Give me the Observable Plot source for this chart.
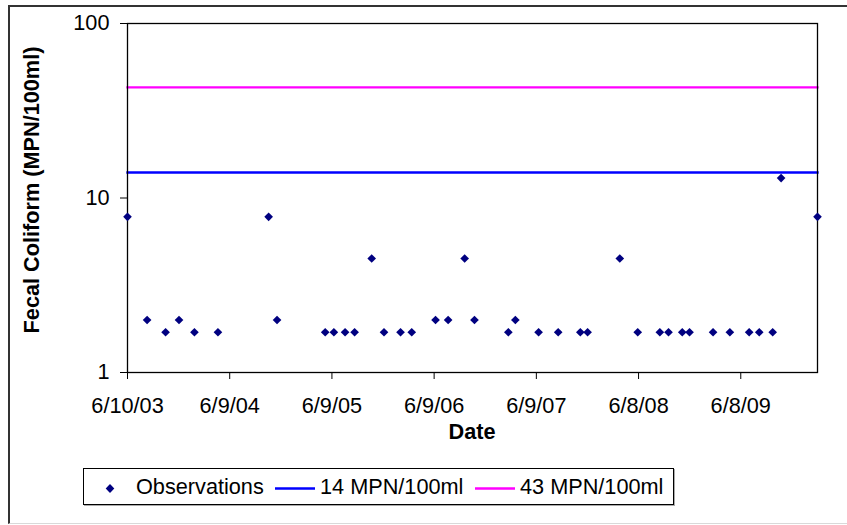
<!DOCTYPE html>
<html>
<head>
<meta charset="utf-8">
<script src="https://cdn.jsdelivr.net/npm/d3@7"></script>
<script src="https://cdn.jsdelivr.net/npm/@observablehq/plot@0.6"></script>
<style>
  body { margin: 0; background: #fff; }
  #wrap { position: relative; width: 847px; height: 525px; overflow: hidden; font-family: "Liberation Sans", Arial, sans-serif; }
  #wrap svg { position: absolute; left: 0; top: 0; }
  .frame { position: absolute; left: 8px; top: 5px; width: 900px; height: 516px; border-left: 2px solid #333; border-top: 2px solid #333; border-bottom: 1px solid #d9d9d9; }
  .title { position: absolute; font-weight: bold; font-size: 21.7px; color: #000; white-space: nowrap; }
  .legend { position: absolute; left: 83px; top: 468px; width: 589px; height: 35px; border: 1px solid #000; background: #fff; box-shadow: 1px 1px 0 #aaa; }
  .li { position: absolute; top: 0; height: 35px; line-height: 35px; font-size: 21.7px; color: #000; white-space: nowrap; }
</style>
</head>
<body>
<div id="wrap">
  <div class="frame"></div>
</div>
<script>
// ---- data ----
const obsDates = ["2003-06-10","2003-08-19","2003-10-24","2003-12-11","2004-02-04","2004-04-28","2004-10-26","2004-11-25","2005-05-16","2005-06-16","2005-07-26","2005-08-29","2005-10-29","2005-12-12","2006-02-09","2006-03-21","2006-06-14","2006-07-29","2006-09-26","2006-10-31","2007-03-01","2007-03-26","2007-06-17","2007-08-26","2007-11-13","2007-12-09","2008-04-02","2008-06-05","2008-08-23","2008-09-23","2008-11-11","2008-12-07","2009-03-01","2009-04-30","2009-07-08","2009-08-13","2009-09-30","2009-10-30","2010-03-09"];
const obsValues = [7.8,2,1.7,2,1.7,1.7,7.8,2,1.7,1.7,1.7,1.7,4.5,1.7,1.7,1.7,2,2,4.5,2,1.7,2,1.7,1.7,1.7,1.7,4.5,1.7,1.7,1.7,1.7,1.7,1.7,1.7,1.7,1.7,1.7,13,7.8];
const standardValues = [14, 43];
const seriesNames = ["Observations", "14 MPN/100ml", "43 MPN/100ml"];
const tickDateStrings = ["2003-06-10","2004-06-09","2005-06-09","2006-06-09","2007-06-09","2008-06-08","2009-06-08"];
const tickLabels = ["6/10/03","6/9/04","6/9/05","6/9/06","6/9/07","6/8/08","6/8/09"];
const yTicks = [1, 10, 100];
const xTitle = "Date";
const yTitle = "Fecal Coliform (MPN/100ml)";

// ---- build ----
const parse = s => new Date(s + "T00:00:00Z");
const obs = obsDates.map((d, i) => ({date: parse(d), value: obsValues[i]}));
const tickDates = tickDateStrings.map(parse);
const std14 = obs.map(d => ({date: d.date, value: standardValues[0]}));
const std43 = obs.map(d => ({date: d.date, value: standardValues[1]}));
const colors = {obs: "#000080", s14: "#0000ff", s43: "#ff00ff"};

const chart = Plot.plot({
  width: 847,
  height: 525,
  marginLeft: 127,
  marginRight: 30,
  marginTop: 23,
  marginBottom: 153,
  style: {fontFamily: "'Liberation Sans', Arial, sans-serif", fontSize: "21.7px", color: "#000", background: "transparent", overflow: "visible"},
  x: {type: "utc", domain: [obs[0].date, obs[obs.length - 1].date]},
  y: {type: "log", domain: [1, 100]},
  marks: [
    Plot.line(std43, {x: "date", y: "value", stroke: colors.s43, strokeWidth: 2.3, strokeLinecap: "square"}),
    Plot.line(std14, {x: "date", y: "value", stroke: colors.s14, strokeWidth: 2.3, strokeLinecap: "square"}),
    Plot.frame({stroke: "#000", strokeWidth: 1.3}),
    Plot.axisY(yTicks, {tickSize: 7, tickPadding: 11, tickFormat: d => String(d), label: null, stroke: "#000"}),
    Plot.axisX(tickDates, {tickSize: 7, tickPadding: 18, label: null, stroke: "#000",
      tickFormat: d => tickLabels[tickDates.findIndex(t => +t === +d)]}),
    Plot.dot(obs, {x: "date", y: "value", symbol: "diamond2", r: 3.9, fill: colors.obs, stroke: "none"})
  ]
});

const wrap = document.getElementById("wrap");
wrap.appendChild(chart);

// axis titles
const xt = document.createElement("div");
xt.className = "title";
xt.textContent = xTitle;
xt.style.left = "472px"; xt.style.top = "432px";
xt.style.transform = "translate(-50%, -50%)";
wrap.appendChild(xt);

const yt = document.createElement("div");
yt.className = "title";
yt.textContent = yTitle;
yt.style.left = "32px"; yt.style.top = "190px";
yt.style.transform = "translate(-50%, -50%) rotate(-90deg)";
wrap.appendChild(yt);

// legend
const lg = document.createElement("div");
lg.className = "legend";
const items = [
  {kind: "dot", color: colors.obs, sx: 26, tx: 52, name: seriesNames[0]},
  {kind: "line", color: colors.s14, sx: 191, tx: 236, name: seriesNames[1]},
  {kind: "line", color: colors.s43, sx: 391, tx: 436, name: seriesNames[2]}
];
items.forEach(it => {
  const sw = document.createElementNS("http://www.w3.org/2000/svg", "svg");
  sw.setAttribute("width", 42); sw.setAttribute("height", 35);
  sw.style.position = "absolute"; sw.style.top = "0px";
  if (it.kind === "dot") {
    sw.style.left = (it.sx - 21) + "px";
    const p = document.createElementNS("http://www.w3.org/2000/svg", "path");
    p.setAttribute("d", "M21,15 L25.3,19.5 L21,24 L16.7,19.5 Z");
    p.setAttribute("fill", it.color);
    sw.appendChild(p);
  } else {
    sw.style.left = it.sx + "px";
    const l = document.createElementNS("http://www.w3.org/2000/svg", "line");
    l.setAttribute("x1", 0); l.setAttribute("x2", 40);
    l.setAttribute("y1", 19.5); l.setAttribute("y2", 19.5);
    l.setAttribute("stroke", it.color); l.setAttribute("stroke-width", 2.3);
    sw.appendChild(l);
  }
  lg.appendChild(sw);
  const t = document.createElement("div");
  t.className = "li";
  t.style.left = it.tx + "px";
  t.textContent = it.name;
  lg.appendChild(t);
});
wrap.appendChild(lg);
</script>
</body>
</html>
